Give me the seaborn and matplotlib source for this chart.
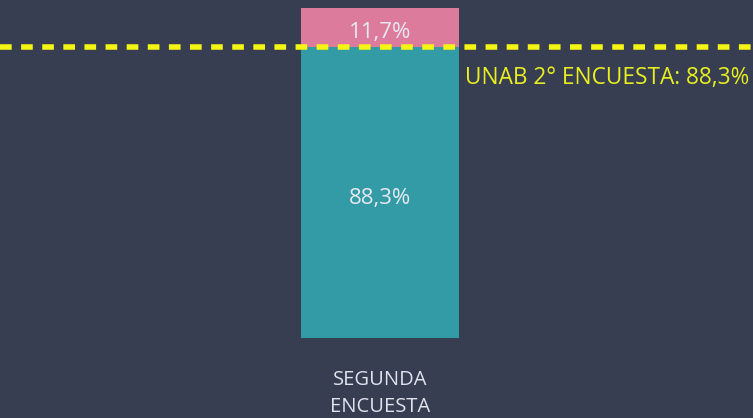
import pandas as pd
import matplotlib.pyplot as plt
import seaborn as sns

# === datos ===
categorias = ['SEGUNDA\nENCUESTA']
si = [88.3]
no = [11.7]
referencia = 88.3
ref_label = 'UNAB 2° ENCUESTA: 88,3%'

df = pd.DataFrame({'cat': categorias, 'si': si, 'no': no})
df['total'] = df['si'] + df['no']

bg = '#383e51'
teal = '#339ba5'
pink = '#dc7b9c'
yellow = '#f5f514'

sns.set_theme(style='white')
plt.rcParams['font.family'] = ['Open Sans', 'DejaVu Sans']

fig = plt.figure(figsize=(7.53, 4.18), dpi=100, facecolor=bg)
ax = fig.add_axes([0, 80 / 418, 1, 330 / 418])
ax.set_facecolor(bg)

# barras apiladas
sns.barplot(data=df, x='cat', y='total', color=pink, width=0.42,
            saturation=1, linewidth=0, ax=ax)
sns.barplot(data=df, x='cat', y='si', color=teal, width=0.42,
            saturation=1, linewidth=0, ax=ax)

ax.set_xlim(-1.01, 0.99)
ax.set_ylim(0, 100)

# etiquetas (pequeño ajuste vertical para centrar el texto)
for i, row in df.iterrows():
    ax.text(i, row['si'] / 2 - 1.8, f"{row['si']:.1f}%".replace('.', ','),
            ha='center', va='center', color='#e6e9f0', fontsize=16)
    ax.text(i, row['si'] + row['no'] / 2 - 1.5, f"{row['no']:.1f}%".replace('.', ','),
            ha='center', va='center', color='#e6e9f0', fontsize=16)

# linea de referencia
ax.axhline(referencia, color=yellow, lw=4, ls=(0, (2.1, 1.7)), zorder=5)
ax.text(0.995, referencia - 6, ref_label, transform=ax.get_yaxis_transform(),
        ha='right', va='top', color='#e8ef1f', fontsize=16.3)

ax.set_xlabel('')
ax.set_ylabel('')
ax.set_yticks([])
ax.tick_params(axis='x', colors='#dfe3ec', labelsize=14.5, length=0, pad=23)
for lab in ax.get_xticklabels():
    lab.set_linespacing(1.5)
for s in ax.spines.values():
    s.set_visible(False)

plt.savefig('out.png', dpi=100, facecolor=bg)
